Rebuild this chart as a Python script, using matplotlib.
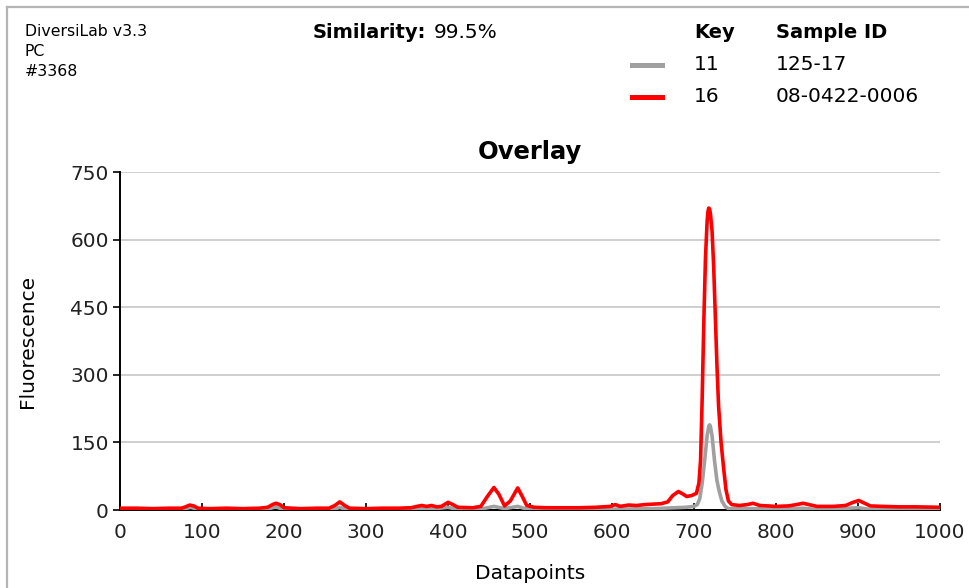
import matplotlib
matplotlib.use("Agg")
import matplotlib.pyplot as plt
from matplotlib.lines import Line2D

# trace of sample 16 (red)
red_x = [0, 20, 40, 60, 75, 80, 85, 90, 95, 110, 130, 150, 170, 180, 186, 190, 195, 200,
         220, 240, 255, 262, 268, 274, 280, 300, 320, 340, 355, 362, 368, 374, 380, 386,
         392, 400, 406, 412, 430, 440, 448, 456, 462, 469, 476, 485, 490, 496, 505, 520,
         540, 560, 580, 598, 604, 610, 620, 630, 640, 650, 660, 668, 674, 681, 686, 691,
         697, 703, 706, 708, 710, 712, 714, 716, 717, 718, 719, 720, 722, 724, 726, 728,
         730, 733, 736, 739, 742, 746, 755, 765, 772, 780, 800, 815, 825, 833, 840, 850,
         870, 885, 894, 901, 908, 915, 930, 950, 970, 1000]
red_y = [4, 4, 3, 4, 4, 7, 11, 9, 4, 3, 4, 3, 4, 6, 12, 15, 12, 5,
         3, 4, 4, 10, 18, 10, 4, 3, 4, 4, 5, 8, 10, 8, 10, 7,
         8, 17, 12, 6, 5, 8, 30, 50, 35, 9, 20, 49, 32, 10, 6, 5,
         5, 5, 6, 8, 12, 8, 11, 10, 12, 13, 14, 18, 32, 41, 36, 30,
         32, 37, 60, 110, 250, 420, 560, 640, 662, 670, 668, 658, 620, 540, 430, 320,
         230, 150, 95, 45, 20, 12, 10, 12, 15, 10, 8, 9, 12, 15, 12, 8,
         8, 10, 17, 21, 15, 9, 8, 7, 7, 6]

# trace of sample 11 (grey)
gray_x = [0, 60, 80, 86, 92, 110, 180, 190, 198, 260, 268, 276, 360, 372, 385, 400, 410,
          440, 456, 469, 485, 496, 520, 600, 650, 690, 700, 704, 707, 710, 713, 716, 718,
          719, 720, 722, 725, 728, 731, 734, 738, 742, 772, 800, 833, 850, 901, 915, 1000]
gray_y = [1, 1, 3, 6, 3, 1, 2, 7, 2, 1, 6, 1, 2, 4, 3, 6, 2,
          2, 8, 3, 8, 2, 1, 2, 3, 6, 8, 12, 25, 60, 110, 165, 186,
          189, 186, 165, 110, 65, 40, 20, 8, 3, 3, 1, 4, 1, 5, 1, 1]

x_ticks = [0, 100, 200, 300, 400, 500, 600, 700, 800, 900, 1000]
y_ticks = [0, 150, 300, 450, 600, 750]

info_lines = ["DiversiLab v3.3", "PC", "#3368"]
similarity = "99.5%"
keys = ["11", "16"]
sample_ids = ["125-17", "08-0422-0006"]
key_colors = ["#a0a0a0", "#ff0000"]

W, H = 969, 588
fig = plt.figure(figsize=(W / 100, H / 100), dpi=100)
ax = fig.add_axes([120 / W, 1 - 510 / H, 820 / W, 338 / H])


def fx(px):
    return px / W


def fy(py):
    return 1 - py / H


# grey frame round the page (top and left only)
fig.add_artist(Line2D([fx(7), fx(7)], [fy(7), 0], color="#b4b4b4", lw=1.6))
fig.add_artist(Line2D([fx(7), 1], [fy(7), fy(7)], color="#b4b4b4", lw=1.6))

ax.plot(gray_x, gray_y, color=key_colors[0], lw=2.6, zorder=3, solid_joinstyle="round")
ax.plot(red_x, red_y, color=key_colors[1], lw=2.6, zorder=4, solid_joinstyle="round")

ax.set_xlim(0, 1000)
ax.set_ylim(0, 750)
ax.set_xticks(x_ticks)
ax.set_yticks(y_ticks)
ax.grid(axis="y", color="#cccccc", lw=1.3)
ax.set_axisbelow(True)
for s in ["top", "right"]:
    ax.spines[s].set_visible(False)
ax.spines["left"].set_linewidth(1.4)
ax.spines["bottom"].set_linewidth(1.4)
ax.tick_params(axis="x", direction="in", length=5, width=1.2, pad=9, labelsize=14.5, colors="black")
ax.tick_params(axis="y", direction="out", length=5, width=1.2, pad=3, labelsize=14.5, colors="black")
for lab in ax.get_xticklabels() + ax.get_yticklabels():
    lab.set_color("#222222")

ax.set_title("Overlay", fontsize=17.5, fontweight="bold", pad=9)
ax.set_ylabel("Fluorescence", fontsize=14.5)
ax.yaxis.set_label_coords(-0.101, 0.5)
ax.set_xlabel("Datapoints", fontsize=14.5)
ax.xaxis.set_label_coords(0.5, -0.16)

# header text
for i, t in enumerate(info_lines):
    fig.text(fx(25), fy(32 + 20 * i), t, fontsize=11.3, va="center", ha="left")
fig.text(fx(313), fy(32), "Similarity:", fontsize=14, fontweight="bold", va="center")
fig.text(fx(434), fy(32), similarity, fontsize=14.5, va="center")
fig.text(fx(694), fy(32), "Key", fontsize=14, fontweight="bold", va="center")
fig.text(fx(776), fy(32), "Sample ID", fontsize=14, fontweight="bold", va="center")
for i, (k, sid, c) in enumerate(zip(keys, sample_ids, key_colors)):
    yy = 65 + 32 * i
    fig.add_artist(Line2D([fx(632), fx(662)], [fy(yy), fy(yy)], color=c, lw=3.6))
    fig.text(fx(694), fy(yy), k, fontsize=14.5, va="center")
    fig.text(fx(776), fy(yy), sid, fontsize=14.5, va="center")

fig.savefig("out.png", dpi=100)
